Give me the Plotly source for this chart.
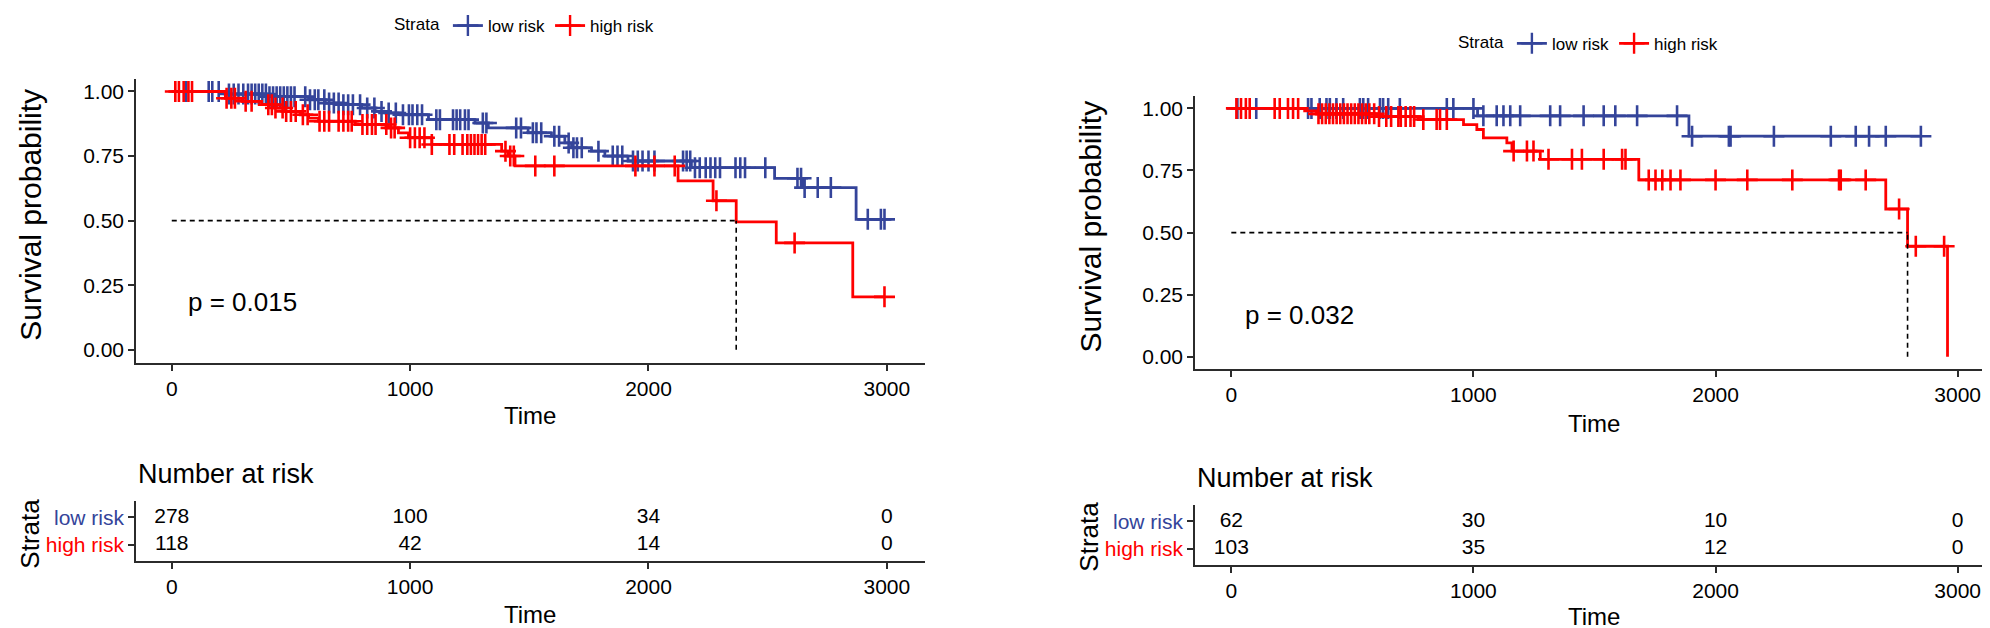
import numpy as np
import plotly.graph_objects as go

W, H = 1990, 628
FONT = "Liberation Sans, Arial, sans-serif"
BLUE = "#34449A"
RED = "#FF0000"
STRATA = ["low risk", "high risk"]

# ---------------- Left panel data ----------------
L_LOW_T = [225, 400, 574, 644, 713, 797, 853, 895, 960, 1077, 1272, 1328, 1495, 1593,
           1649, 1677, 1761, 1817, 1914, 2180, 2529, 2648, 2871]
L_LOW_S = [0.99, 0.98, 0.968, 0.955, 0.949, 0.936, 0.923, 0.917, 0.91, 0.891, 0.878, 0.859,
           0.84, 0.827, 0.801, 0.782, 0.769, 0.75, 0.731, 0.705, 0.664, 0.628, 0.505]
L_LOW_END = 2990
L_LOW_CENS = [60, 155, 170, 197, 240, 260, 280, 300, 320, 335, 350, 365, 380, 395, 410, 425,
              440, 455, 470, 485, 500, 515, 560, 580, 600, 615, 640, 660, 680, 700, 720, 740,
              760, 790, 820, 850, 880, 910, 940, 970, 995, 1010, 1030, 1050, 1110, 1125, 1180,
              1195, 1210, 1230, 1245, 1305, 1320, 1445, 1465, 1515, 1530, 1550, 1605, 1625,
              1665, 1685, 1700, 1720, 1790, 1850, 1870, 1890, 1935, 1955, 1975, 2000, 2025,
              2145, 2160, 2175, 2195, 2215, 2240, 2260, 2280, 2300, 2365, 2385, 2405, 2490,
              2625, 2640, 2655, 2710, 2765, 2920, 2975, 2990]

L_HIGH_T = [225, 294, 377, 435, 477, 540, 574, 616, 770, 909, 951, 993, 1091, 1384, 1412,
            1440, 2124, 2271, 2368, 2536, 2857]
L_HIGH_S = [0.974, 0.962, 0.949, 0.936, 0.923, 0.91, 0.897, 0.885, 0.872, 0.859, 0.84, 0.821,
            0.795, 0.769, 0.75, 0.712, 0.654, 0.577, 0.495, 0.414, 0.205]
L_HIGH_END = 2990
L_HIGH_CENS = [15, 30, 50, 70, 85, 230, 250, 265, 310, 335, 405, 420, 435, 465, 480, 500, 520,
               550, 570, 620, 640, 660, 700, 720, 740, 755, 800, 820, 840, 855, 900, 920, 935,
               1000, 1020, 1040, 1060, 1091, 1165, 1185, 1220, 1240, 1255, 1270, 1285, 1300,
               1315, 1400, 1420, 1435, 1525, 1605, 1945, 2025, 2110, 2285, 2613, 2990]
L_PVAL = "p = 0.015"

# ---------------- Right panel data ----------------
R_LOW_T = [1017, 1890]
R_LOW_S = [0.97, 0.888]
R_LOW_END = 2848
R_LOW_CENS = [25, 103, 317, 331, 365, 393, 407, 434, 462, 531, 545, 565, 614, 627, 648, 696,
              890, 917, 1000, 1041, 1096, 1124, 1152, 1193, 1317, 1358, 1455, 1538, 1586,
              1676, 1841, 1903, 2055, 2062, 2241, 2476, 2579, 2634, 2703, 2848]

R_HIGH_T = [303, 352, 600, 772, 959, 1014, 1041, 1138, 1159, 1276, 1683, 2703, 2793, 2958]
R_HIGH_S = [0.99, 0.978, 0.967, 0.955, 0.935, 0.915, 0.881, 0.861, 0.828, 0.795, 0.712,
            0.595, 0.445, 0.0]
R_HIGH_END = 2958
R_HIGH_CENS = [21, 40, 60, 76, 179, 200, 234, 255, 276, 360, 375, 390, 405, 420, 435, 450, 465,
               480, 495, 510, 525, 540, 555, 570, 590, 610, 640, 660, 690, 700, 720, 740, 755,
               793, 848, 862, 890, 1166, 1221, 1248, 1310, 1407, 1448, 1538, 1614, 1628, 1724,
               1752, 1780, 1814, 1855, 2000, 2131, 2317, 2510, 2517, 2620, 2758, 2827, 2944]
R_PVAL = "p = 0.032"

# ---------------- Number at risk ----------------
RISK_TIMES = [0, 1000, 2000, 3000]
L_RISK_LOW = [278, 100, 34, 0]
L_RISK_HIGH = [118, 42, 14, 0]
R_RISK_LOW = [62, 30, 10, 0]
R_RISK_HIGH = [103, 35, 12, 0]

X_TICKS = [0, 1000, 2000, 3000]
Y_TICKS = [0, 0.25, 0.5, 0.75, 1.0]


def px_x(p):
    return p / W


def px_y(p):
    return 1 - p / H


fig = go.Figure()


def add_curve(times, surv, end, cens, color, xa, ya):
    st = np.array([0] + list(times), dtype=float)
    ss = np.array([1.0] + list(surv), dtype=float)
    x = list(st) + [end]
    y = list(ss) + [ss[-1]]
    fig.add_trace(go.Scatter(x=x, y=y, mode="lines", line=dict(color=color, width=2.8, shape="hv"),
                             xaxis=xa, yaxis=ya, showlegend=False, hoverinfo="skip"))
    c = np.array(cens, dtype=float)
    idx = np.searchsorted(st, c, side="right") - 1
    fig.add_trace(go.Scatter(x=c, y=ss[idx], mode="markers",
                             marker=dict(symbol="cross-thin", size=15,
                                         line=dict(color=color, width=2.6)),
                             xaxis=xa, yaxis=ya, showlegend=False, hoverinfo="skip"))
    below = np.where(ss <= 0.5)[0]
    if len(below):
        m = st[below[0]]
        fig.add_shape(type="line", x0=0, x1=m, y0=0.5, y1=0.5, xref=xa, yref=ya,
                      line=dict(color="black", width=1.6, dash="5px,4px"))
        fig.add_shape(type="line", x0=m, x1=m, y0=0, y1=0.5, xref=xa, yref=ya,
                      line=dict(color="black", width=1.6, dash="5px,4px"))


add_curve(L_LOW_T, L_LOW_S, L_LOW_END, L_LOW_CENS, BLUE, "x", "y")
add_curve(L_HIGH_T, L_HIGH_S, L_HIGH_END, L_HIGH_CENS, RED, "x", "y")
add_curve(R_LOW_T, R_LOW_S, R_LOW_END, R_LOW_CENS, BLUE, "x2", "y2")
add_curve(R_HIGH_T, R_HIGH_S, R_HIGH_END, R_HIGH_CENS, RED, "x2", "y2")

# legend dummies
for lg, xa, ya in [("legend", "x", "y"), ("legend2", "x2", "y2")]:
    for name, col in zip(STRATA, [BLUE, RED]):
        fig.add_trace(go.Scatter(x=[None], y=[None], mode="lines+markers", name=name,
                                 line=dict(color=col, width=2.8),
                                 marker=dict(symbol="cross-thin", size=15,
                                             line=dict(color=col, width=2.4)),
                                 xaxis=xa, yaxis=ya, legend=lg, showlegend=True))

TICK = 21
# risk tables
for xa, ya, low, high in [("x3", "y3", L_RISK_LOW, L_RISK_HIGH), ("x4", "y4", R_RISK_LOW, R_RISK_HIGH)]:
    fig.add_trace(go.Scatter(x=RISK_TIMES + RISK_TIMES, y=[2] * len(low) + [1] * len(high),
                             mode="text", text=[str(v) for v in low + high],
                             textfont=dict(size=TICK, color="black", family=FONT),
                             xaxis=xa, yaxis=ya, showlegend=False, hoverinfo="skip"))

AX = dict(showline=True, linecolor="#2b2b2b", linewidth=1.6, ticks="outside", ticklen=6,
          tickwidth=1.5, tickcolor="#2b2b2b", showgrid=False, zeroline=False,
          tickfont=dict(size=TICK, color="black", family=FONT), fixedrange=True)

LX = [px_x(128), px_x(917)]
RX = [px_x(1187), px_x(1986)]
TABLE_TT = [f"<span style='color:{RED}'>high risk</span>",
            f"<span style='color:{BLUE}'>low risk</span>"]

layout = dict(
    width=W, height=H, paper_bgcolor="white", plot_bgcolor="white",
    margin=dict(l=0, r=0, t=0, b=0),
    font=dict(family=FONT, color="black"),
    xaxis=dict(AX, domain=LX, range=[-150, 3160], tickvals=X_TICKS, anchor="y"),
    yaxis=dict(AX, domain=[px_y(353), px_y(67)], range=[-0.05, 1.05], tickvals=Y_TICKS,
               tickformat=".2f", anchor="x"),
    xaxis2=dict(AX, domain=RX, range=[-150, 3150], tickvals=X_TICKS, anchor="y2"),
    yaxis2=dict(AX, domain=[px_y(359.5), px_y(84.5)], range=[-0.05, 1.05], tickvals=Y_TICKS,
                tickformat=".2f", anchor="x2"),
    xaxis3=dict(AX, domain=LX, range=[-150, 3160], tickvals=X_TICKS, anchor="y3"),
    yaxis3=dict(AX, domain=[px_y(553), px_y(492)], range=[0.4, 2.6], tickvals=[1, 2],
                ticktext=TABLE_TT, anchor="x3"),
    xaxis4=dict(AX, domain=RX, range=[-150, 3150], tickvals=X_TICKS, anchor="y4"),
    yaxis4=dict(AX, domain=[px_y(557), px_y(496)], range=[0.4, 2.6], tickvals=[1, 2],
                ticktext=TABLE_TT, anchor="x4"),
    legend=dict(orientation="h", x=px_x(384), y=px_y(14), xanchor="left", yanchor="middle",
                title=dict(text="Strata", side="left", font=dict(size=17)),
                font=dict(size=17), itemwidth=30, bgcolor="rgba(0,0,0,0)"),
    legend2=dict(orientation="h", x=px_x(1448), y=px_y(32), xanchor="left", yanchor="middle",
                 title=dict(text="Strata", side="left", font=dict(size=17)),
                 font=dict(size=17), itemwidth=30, bgcolor="rgba(0,0,0,0)"),
)
fig.update_layout(**layout)

ann = []


def text(x, y, s, size, angle=0, xanchor="center", xref="paper", yref="paper"):
    ann.append(dict(x=x, y=y, text=s, showarrow=False, xref=xref, yref=yref,
                    xanchor=xanchor, yanchor="middle", textangle=angle,
                    font=dict(size=size, color="black", family=FONT)))


# axis titles
text(px_x(23), px_y(204), "Survival probability", 30, angle=-90)
text(px_x(1083), px_y(216), "Survival probability", 30, angle=-90)
text(px_x(522), px_y(406), "Time", 24)
text(px_x(1586), px_y(414), "Time", 24)
text(px_x(522), px_y(606), "Time", 24)
text(px_x(1586), px_y(608), "Time", 24)
text(px_x(128), px_y(465), "Number at risk", 27, xanchor="left")
text(px_x(1187), px_y(469), "Number at risk", 27, xanchor="left")
text(px_x(22), px_y(525), "Strata", 26, angle=-90)
text(px_x(1081), px_y(528), "Strata", 26, angle=-90)
# p-values
text(60, 0.185, L_PVAL, 26, xanchor="left", xref="x", yref="y")
text(50, 0.17, R_PVAL, 26, xanchor="left", xref="x2", yref="y2")

fig.update_layout(annotations=ann)
fig.write_html("out.html")
